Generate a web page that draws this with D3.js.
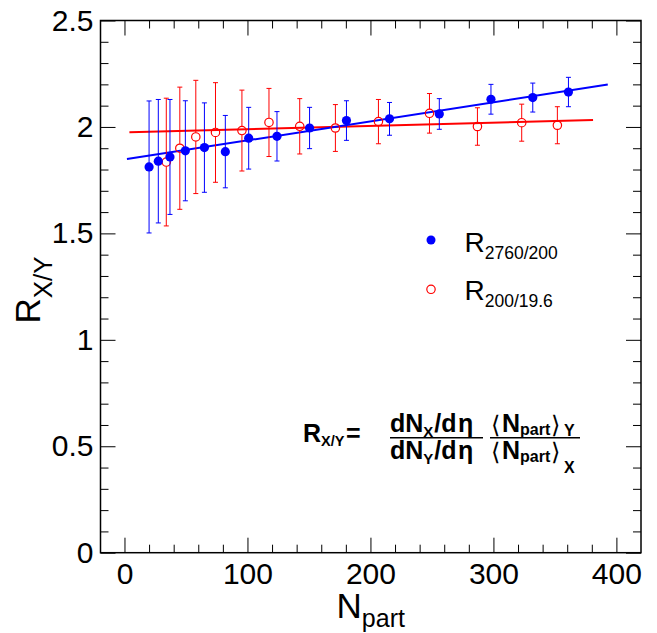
<!DOCTYPE html>
<html>
<head>
<meta charset="utf-8">
<script src="https://cdn.jsdelivr.net/npm/d3@7"></script>
<style>
  body { margin: 0; background: #fff; }
  svg { display: block; font-family: "Liberation Sans", Arial, sans-serif; }
</style>
</head>
<body>
<div id="chart"></div>
<script>
// R 2760/200 (filled blue)
const nPartBlue = [20, 27.5, 37, 49.5, 65, 82, 101, 124, 150.5, 180.5, 215.5, 256, 298, 332, 361];
const ratioBlue = [1.812, 1.839, 1.859, 1.888, 1.903, 1.884, 1.947, 1.956, 1.995, 2.030, 2.038, 2.061, 2.130, 2.138, 2.164];
const errBlue = [0.31, 0.29, 0.27, 0.235, 0.21, 0.17, 0.145, 0.116, 0.097, 0.093, 0.077, 0.072, 0.070, 0.068, 0.069];

// R 200/19.6 (open red)
const nPartRed = [34, 45, 58, 74, 95.5, 117.5, 142.5, 171.5, 206.5, 248, 287, 323, 352];
const ratioRed = [1.835, 1.900, 1.953, 1.974, 1.983, 2.021, 2.003, 1.995, 2.025, 2.064, 2.002, 2.020, 2.008];
const errRed = [0.30, 0.287, 0.266, 0.234, 0.19, 0.16, 0.13, 0.11, 0.104, 0.093, 0.088, 0.087, 0.087];

// linear fits, end points
const fitBlueN = [2, 393];
const fitBlueR = [1.849, 2.199];
const fitRedN = [4, 381];
const fitRedR = [1.975, 2.033];

const xTicks = [0, 100, 200, 300, 400];
const xTickLabels = ['0', '100', '200', '300', '400'];
const yTicks = [0, 0.5, 1, 1.5, 2, 2.5];
const yTickLabels = ['0', '0.5', '1', '1.5', '2', '2.5'];

const width = 657, height = 633;
const frame = {left: 100.5, right: 641, top: 20.5, bottom: 552.7};

const svg = d3.select('#chart').append('svg')
    .attr('width', width)
    .attr('height', height);

svg.append('rect').attr('width', width).attr('height', height).attr('fill', '#fff');

const x = d3.scaleLinear().domain([-19.5, 420]).range([frame.left, frame.right]);
const y = d3.scaleLinear().domain([0, 2.5]).range([frame.bottom, frame.top]);

const xMinor = d3.range(1, 21).filter(i => i % 5 !== 0).map(i => i * 20);
const yMinor = d3.range(1, 25).filter(i => i % 5 !== 0).map(i => i / 10);

function styleAxis(g) {
    g.select('.domain').remove();
    g.selectAll('.tick line').attr('stroke', '#000').attr('stroke-width', 1);
    g.selectAll('.tick text')
        .attr('fill', '#000')
        .attr('font-size', 30)
        .attr('font-family', '"Liberation Sans", Arial, sans-serif');
}

// bottom
svg.append('g').attr('transform', `translate(0,${frame.bottom})`)
    .call(d3.axisBottom(x).tickValues(xTicks).tickSize(-15).tickPadding(10)
        .tickFormat((d, i) => xTickLabels[i]))
    .call(styleAxis);
svg.append('g').attr('transform', `translate(0,${frame.bottom})`)
    .call(d3.axisBottom(x).tickValues(xMinor).tickSize(-8).tickFormat(''))
    .call(styleAxis);
// top
svg.append('g').attr('transform', `translate(0,${frame.top})`)
    .call(d3.axisTop(x).tickValues(xTicks).tickSize(-15).tickFormat(''))
    .call(styleAxis);
svg.append('g').attr('transform', `translate(0,${frame.top})`)
    .call(d3.axisTop(x).tickValues(xMinor).tickSize(-8).tickFormat(''))
    .call(styleAxis);
// left
svg.append('g').attr('transform', `translate(${frame.left},0)`)
    .call(d3.axisLeft(y).tickValues(yTicks).tickSize(-15).tickPadding(7)
        .tickFormat((d, i) => yTickLabels[i]))
    .call(styleAxis);
svg.append('g').attr('transform', `translate(${frame.left},0)`)
    .call(d3.axisLeft(y).tickValues(yMinor).tickSize(-8).tickFormat(''))
    .call(styleAxis);
// right
svg.append('g').attr('transform', `translate(${frame.right},0)`)
    .call(d3.axisRight(y).tickValues(yTicks).tickSize(-15).tickFormat(''))
    .call(styleAxis);
svg.append('g').attr('transform', `translate(${frame.right},0)`)
    .call(d3.axisRight(y).tickValues(yMinor).tickSize(-8).tickFormat(''))
    .call(styleAxis);

svg.append('rect')
    .attr('x', frame.left).attr('y', frame.top)
    .attr('width', frame.right - frame.left)
    .attr('height', frame.bottom - frame.top)
    .attr('fill', 'none')
    .attr('stroke', '#000')
    .attr('stroke-width', 1.5);

// axis titles
const xTitle = svg.append('text')
    .attr('x', (frame.left + frame.right) / 2)
    .attr('y', 618)
    .attr('text-anchor', 'middle')
    .attr('font-size', 35);
xTitle.append('tspan').text('N');
xTitle.append('tspan').attr('dy', 8.5).attr('font-size', 25).text('part');

const yTitle = svg.append('text')
    .attr('transform', 'translate(40,290) rotate(-90)')
    .attr('text-anchor', 'middle')
    .attr('font-size', 35);
yTitle.append('tspan').text('R');
yTitle.append('tspan').attr('dy', 12).attr('font-size', 26).text('X/Y');

// fits
const line = d3.line().x(d => x(d[0])).y(d => y(d[1]));
svg.append('path')
    .attr('d', line(d3.zip(fitRedN, fitRedR)))
    .attr('stroke', '#ff0000').attr('stroke-width', 2).attr('fill', 'none');
svg.append('path')
    .attr('d', line(d3.zip(fitBlueN, fitBlueR)))
    .attr('stroke', '#0000ff').attr('stroke-width', 2).attr('fill', 'none');

const cap = 2.5;
function drawSeries(nArr, rArr, eArr, color, filled, r) {
    const g = svg.append('g');
    const pts = nArr.map((n, i) => ({n: n, v: rArr[i], e: eArr[i]}));
    const gap = filled ? 0 : r;
    const bars = g.selectAll('g.err').data(pts).join('g').attr('class', 'err')
        .attr('stroke', color).attr('stroke-width', 1);
    bars.append('line')
        .attr('x1', d => x(d.n)).attr('x2', d => x(d.n))
        .attr('y1', d => y(d.v + d.e)).attr('y2', d => y(d.v) - gap);
    bars.append('line')
        .attr('x1', d => x(d.n)).attr('x2', d => x(d.n))
        .attr('y1', d => y(d.v) + gap).attr('y2', d => y(d.v - d.e));
    bars.append('line')
        .attr('x1', d => x(d.n) - cap).attr('x2', d => x(d.n) + cap)
        .attr('y1', d => y(d.v + d.e)).attr('y2', d => y(d.v + d.e));
    bars.append('line')
        .attr('x1', d => x(d.n) - cap).attr('x2', d => x(d.n) + cap)
        .attr('y1', d => y(d.v - d.e)).attr('y2', d => y(d.v - d.e));
    g.selectAll('circle').data(pts).join('circle')
        .attr('cx', d => x(d.n)).attr('cy', d => y(d.v)).attr('r', r)
        .attr('fill', filled ? color : 'none')
        .attr('stroke', filled ? 'none' : color)
        .attr('stroke-width', 1.2);
}
drawSeries(nPartRed, ratioRed, errRed, '#ff0000', false, 4.2);
drawSeries(nPartBlue, ratioBlue, errBlue, '#0000ff', true, 4.6);

// legend
const legend = svg.append('g');
legend.append('circle').attr('cx', 431).attr('cy', 240).attr('r', 4.5).attr('fill', '#0000ff');
legend.append('circle').attr('cx', 431).attr('cy', 289.3).attr('r', 4.2)
    .attr('fill', 'none').attr('stroke', '#ff0000').attr('stroke-width', 1.2);
const l1 = legend.append('text').attr('x', 464.5).attr('y', 251.7).attr('font-size', 28);
l1.append('tspan').text('R');
l1.append('tspan').attr('dy', 7.6).attr('font-size', 17.5).text('2760/200');
const l2 = legend.append('text').attr('x', 464.5).attr('y', 300).attr('font-size', 28);
l2.append('tspan').text('R');
l2.append('tspan').attr('dy', 7.3).attr('font-size', 17.5).text('200/19.6');

// formula
const f = svg.append('g').attr('font-weight', 'bold').attr('font-size', 25);
const fr = f.append('text').attr('x', 303).attr('y', 442);
fr.append('tspan').text('R');
fr.append('tspan').attr('dy', 4).attr('font-size', 14.5).text('X/Y');
f.append('text').attr('x', 346).attr('y', 442).text('=');

function dndeta(yb, sub) {
    const t = f.append('text').attr('x', 390).attr('y', yb);
    t.append('tspan').text('dN');
    t.append('tspan').attr('dy', 5).attr('font-size', 15).text(sub);
    t.append('tspan').attr('dy', -5).attr('dx', 1).text('/d');
    t.append('tspan').attr('dx', 1.5).text('η');
}
dndeta(432, 'X');
dndeta(458.5, 'Y');

function npart(yb, subDy, sub, subY) {
    f.append('text').attr('x', 491).attr('y', yb + 1)
        .attr('font-weight', 'normal').attr('font-size', 24).attr('font-family', '"DejaVu Sans", sans-serif')
        .text('⟨');
    const t = f.append('text').attr('x', 502).attr('y', yb);
    t.append('tspan').text('N');
    t.append('tspan').attr('dy', subDy).attr('font-size', 16).text('part');
    f.append('text').attr('x', 551).attr('y', yb + 1)
        .attr('font-weight', 'normal').attr('font-size', 24).attr('font-family', '"DejaVu Sans", sans-serif')
        .text('⟩');
    f.append('text').attr('x', 564).attr('y', subY).attr('font-size', 16).text(sub);
}
npart(432, 2.5, 'Y', 435.5);
npart(458.5, 3, 'X', 473);

f.append('line').attr('x1', 390).attr('x2', 483).attr('y1', 437.7).attr('y2', 437.7)
    .attr('stroke', '#000').attr('stroke-width', 1.5);
f.append('line').attr('x1', 490).attr('x2', 580).attr('y1', 437.7).attr('y2', 437.7)
    .attr('stroke', '#000').attr('stroke-width', 1.5);
</script>
</body>
</html>
